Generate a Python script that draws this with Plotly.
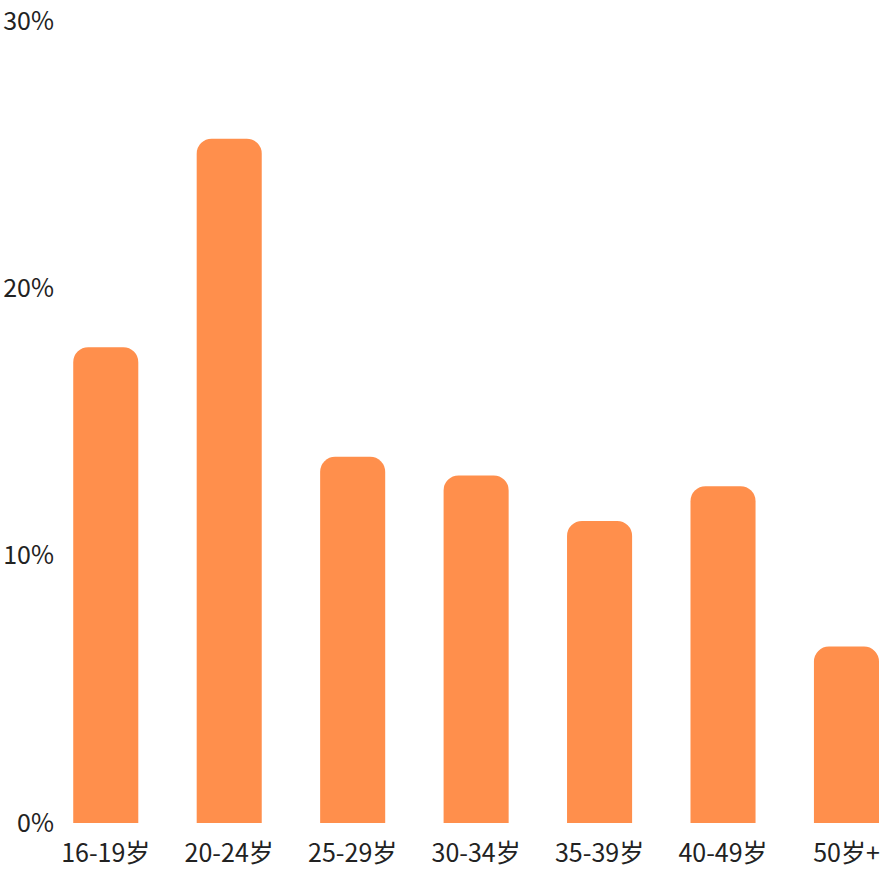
import plotly.graph_objects as go

categories = ["16-19岁", "20-24岁", "25-29岁", "30-34岁", "35-39岁", "40-49岁", "50岁+"]
values = [17.8, 25.6, 13.7, 13.0, 11.3, 12.6, 6.6]
y_ticks = [0, 10, 20, 30]
y_tick_labels = ["0%", "10%", "20%", "30%"]

FONT = "Noto Sans CJK SC, Noto Sans, sans-serif"

fig = go.Figure(go.Bar(
    x=categories,
    y=values,
    width=0.527,
    marker=dict(color="#FF8F4C", cornerradius=15, line=dict(width=0)),
    hoverinfo="skip",
))

fig.update_layout(
    width=884,
    height=872,
    margin=dict(l=57, r=0, t=21, b=49),
    paper_bgcolor="white",
    plot_bgcolor="white",
    showlegend=False,
    font=dict(family=FONT, size=25, color="#222222"),
    xaxis=dict(
        type="category",
        range=[-0.395, 6.304],
        showgrid=False,
        zeroline=False,
        showline=False,
        ticks="",
        ticklabelstandoff=13,
        tickfont=dict(family=FONT, size=25, color="#222222"),
    ),
    yaxis=dict(
        range=[0, 30],
        tickvals=y_ticks,
        ticktext=y_tick_labels,
        showgrid=False,
        zeroline=False,
        showline=False,
        ticks="",
        ticklabelstandoff=2,
        tickfont=dict(family=FONT, size=25, color="#222222"),
    ),
)

fig.write_html(
    "out.html",
    config={"displayModeBar": False},
    post_script="document.body.style.margin='0';document.body.style.overflow='hidden';",
)
